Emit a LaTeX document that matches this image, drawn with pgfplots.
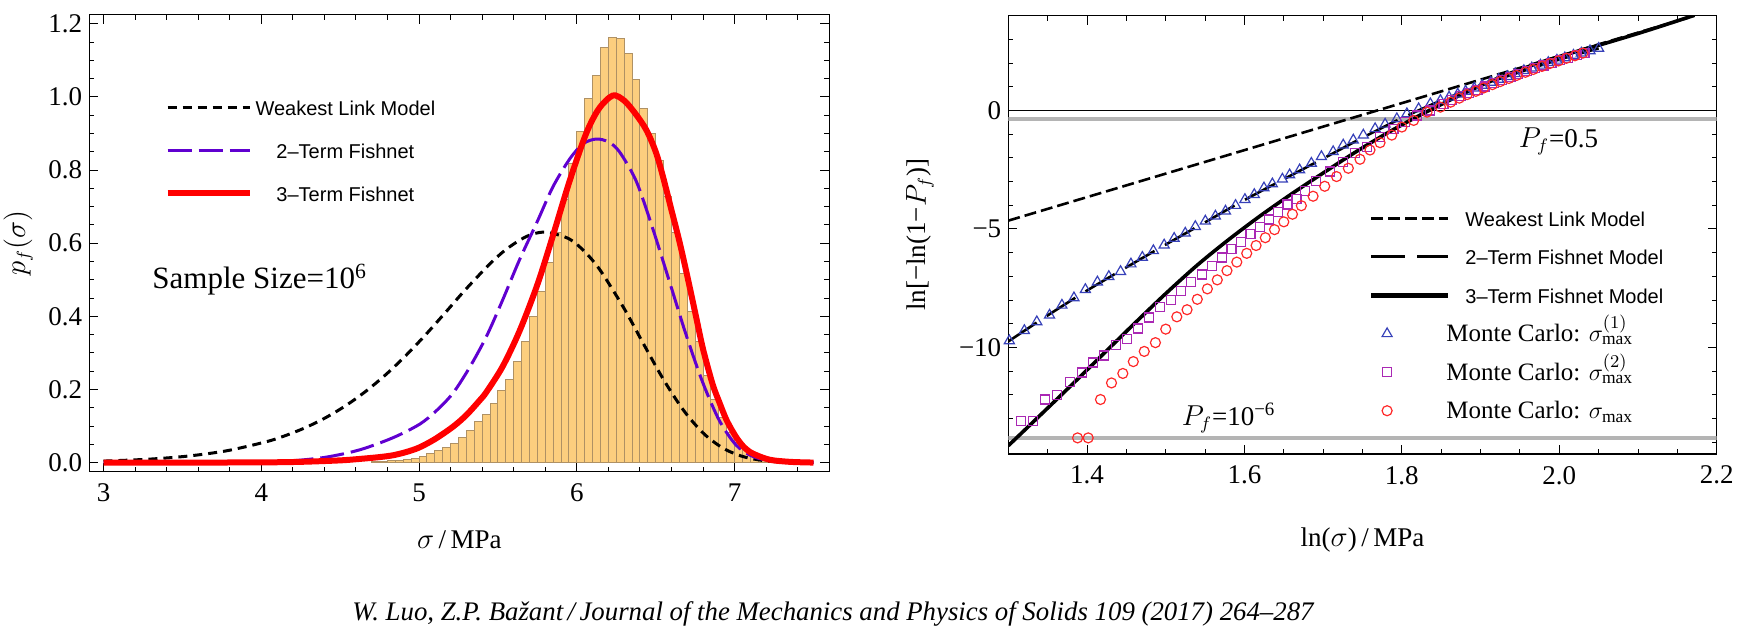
\documentclass[border=0pt]{standalone}
\usepackage{fontspec}
\setmainfont{Liberation Serif}
\setsansfont{Liberation Sans}
\usepackage{pgfplots}
\pgfplotsset{compat=1.18}
\definecolor{histfill}{RGB}{252,206,126}
\definecolor{histedge}{RGB}{175,145,100}
\definecolor{purp}{RGB}{96,0,208}
\definecolor{tri}{RGB}{55,65,185}
\definecolor{sq}{RGB}{170,40,180}
\definecolor{circ}{RGB}{255,40,40}
\definecolor{gline}{RGB}{180,180,180}
\newcommand{\tickfont}{\fontsize{13.5}{15}\selectfont}
\newcommand{\legfont}{\sffamily\fontsize{10}{12}\selectfont}
\newcommand{\mcfont}{\rmfamily\fontsize{12.5}{14}\selectfont}
\pgfplotsset{
  myaxis/.style={
    scale only axis,
    axis line style={line width=0.6pt},
    tick align=inside,
    major tick length=4.5pt,
    minor tick length=2.5pt,
    tick style={black, line width=0.5pt},
    tick label style={font=\tickfont},
    label style={font=\tickfont},
    xticklabel style={yshift=-2.5pt},
  },
  linelegend/.style={legend image code/.code={\draw[##1] (0pt,0pt) -- (38.5pt,0pt);}},
  markleg/.style={legend image code/.code={\draw[##1] plot coordinates {(8pt,0pt)}; \path[draw=none] (0pt,0pt) -- (38.5pt,0pt);}},
}
\begin{document}
\begin{tikzpicture}
\useasboundingbox (0,0) rectangle (872.5pt,-316pt);
% ---------------- left panel ----------------
\begin{axis}[myaxis, at={(44.65pt,-7.35pt)}, anchor=north west,
  width=370pt, height=228.5pt,
  xmin=2.91, xmax=7.6, ymin=-0.025, ymax=1.225,
  xtick={3,4,5,6,7}, xticklabels={3,4,5,6,7},
  ytick={0,0.2,0.4,0.6,0.8,1.0,1.2}, yticklabels={0.0,0.2,0.4,0.6,0.8,1.0,1.2},
  minor xtick={3.2,3.4,3.6,3.8,4.2,4.4,4.6,4.8,5.2,5.4,5.6,5.8,6.2,6.4,6.6,6.8,7.2,7.4},
  minor ytick={0.05,0.1,0.15,0.25,0.3,0.35,0.45,0.5,0.55,0.65,0.7,0.75,0.85,0.9,0.95,1.05,1.1,1.15},
  xlabel={$\sigma$\,/\,MPa}, ylabel={$p_f(\sigma)$},
  xlabel style={at={(axis description cs:0.5,-0.149)}, anchor=center},
  ylabel style={at={(axis description cs:-0.096,0.5)}, anchor=center},
  legend style={draw=none, fill=none, inner sep=0pt, outer sep=0pt,
    at={(axis cs:3.388,0.997)}, anchor=north west, font=\legfont,
    row sep=12.3pt, column sep=1.4pt,
    nodes={inner sep=0pt, text height=8.6pt, text depth=0.6pt}},
  legend cell align=center,
  legend image code/.code={\draw[#1] (0pt,0pt) -- (41pt,0pt);},
]
\addplot[ybar interval, fill=histfill, draw=histedge, line width=0.5pt, forget plot] coordinates {
(4.70,0.002) (4.75,0.003) (4.80,0.005) (4.85,0.007) (4.90,0.009) (4.95,0.012)
(5.00,0.016) (5.05,0.024) (5.10,0.032) (5.15,0.040) (5.20,0.053) (5.25,0.068)
(5.30,0.087) (5.35,0.111) (5.40,0.132) (5.45,0.161) (5.50,0.198) (5.55,0.227)
(5.60,0.276) (5.65,0.330) (5.70,0.399) (5.75,0.467) (5.80,0.548) (5.85,0.628)
(5.90,0.719) (5.95,0.819) (6.00,0.906) (6.05,0.996) (6.10,1.060) (6.15,1.136)
(6.20,1.164) (6.25,1.161) (6.30,1.120) (6.35,1.049) (6.40,0.968) (6.45,0.900)
(6.50,0.826) (6.55,0.728) (6.60,0.628) (6.65,0.516) (6.70,0.412) (6.75,0.331)
(6.80,0.238) (6.85,0.172) (6.90,0.124) (6.95,0.081) (7.00,0.054) (7.05,0.033)
(7.10,0.016) (7.15,0.008) (7.20,0.004) (7.25,0.002) (7.30,0.001) (7.35,0.001)};
\addplot[black, line width=1.5pt, dash pattern=on 4.5pt off 3pt, smooth] coordinates {
(3.0,0.0040) (3.276,0.0090) (3.528,0.0174) (3.780,0.0322) (4.032,0.0570) (4.158,0.0746)
(4.284,0.0964) (4.410,0.1233) (4.536,0.1559) (4.662,0.1948) (4.788,0.2401) (4.914,0.2918)
(5.040,0.3489) (5.166,0.4100) (5.292,0.4721) (5.444,0.5414) (5.544,0.5805) (5.645,0.6102)
(5.720,0.6250) (5.808,0.6300) (5.948,0.6126) (6.048,0.5776) (6.149,0.5254) (6.300,0.4211)
(6.426,0.3218) (6.552,0.2250) (6.678,0.1419) (6.804,0.0793) (6.930,0.0385) (7.056,0.0160)
(7.183,0.0055) (7.309,0.0015) (7.5,0.0002)};
\addlegendentry{Weakest Link Model}
\addplot[purp, line width=1.5pt, dash pattern=on 12pt off 3.5pt, smooth] coordinates {
(3.0,0.0) (3.5,0.0004) (4.0,0.002) (4.2,0.005) (4.414,0.015) (4.625,0.035) (4.835,0.068)
(5.004,0.105) (5.11,0.142) (5.215,0.19) (5.32,0.26) (5.427,0.345) (5.53,0.445) (5.637,0.555)
(5.75,0.66) (5.848,0.754) (5.954,0.830) (6.04,0.872) (6.123,0.885) (6.2,0.877) (6.27,0.850)
(6.376,0.77) (6.481,0.64) (6.587,0.495) (6.692,0.35) (6.797,0.22) (6.903,0.115) (7.009,0.048)
(7.114,0.017) (7.25,0.004) (7.5,0.0)};
\addlegendentry{2–Term Fishnet}
\addplot[red, line width=3pt, smooth] coordinates {
(3.0,0.0) (3.5,0.0) (4.0,0.0005) (4.25,0.002) (4.5,0.006) (4.625,0.01) (4.75,0.015)
(4.835,0.02) (4.92,0.029) (5.0,0.041) (5.1,0.064) (5.215,0.098) (5.3,0.13) (5.384,0.17)
(5.427,0.193) (5.53,0.263) (5.637,0.36) (5.75,0.487) (5.848,0.62) (5.954,0.77) (6.059,0.9)
(6.14,0.968) (6.228,1.004) (6.30,0.99) (6.37,0.955) (6.44,0.91) (6.5,0.85) (6.544,0.785)
(6.60,0.69) (6.65,0.605) (6.70,0.51) (6.755,0.40) (6.80,0.31) (6.86,0.215) (6.903,0.165)
(6.95,0.115) (7.009,0.07) (7.06,0.042) (7.114,0.025) (7.22,0.008) (7.35,0.002) (7.5,0.0)};
\addlegendentry{3–Term Fishnet}
\node[font=\fontsize{15.5}{17}\selectfont] at (axis cs:3.99,0.5) {Sample Size=10\textsuperscript{6}};
\end{axis}
% ---------------- right panel ----------------
\begin{axis}[myaxis, at={(504.15pt,-7.85pt)}, anchor=north west,
  width=354.2pt, height=219.15pt,
  xmin=1.3, xmax=2.2, ymin=-14.5, ymax=4,
  xtick={1.4,1.6,1.8,2.0,2.2}, xticklabels={1.4,1.6,1.8,2.0,2.2},
  ytick={-10,-5,0}, yticklabels={−10,−5,0},
  minor xtick={1.3,1.35,1.45,1.5,1.55,1.65,1.7,1.75,1.85,1.9,1.95,2.05,2.1,2.15},
  minor ytick={-14,-13,-12,-11,-9,-8,-7,-6,-4,-3,-2,-1,1,2,3},
  xlabel={ln($\sigma$)\,/\,MPa}, ylabel={ln[−ln(1−$P_f$)]},
  xlabel style={at={(axis description cs:0.5,-0.196)}, anchor=center},
  ylabel style={at={(axis description cs:-0.1246,0.5)}, anchor=center},
  legend style={draw=none, fill=none, inner sep=0pt, outer sep=0pt,
    at={(axis cs:1.758,-4.16)}, anchor=north west, font=\legfont,
    row sep=10.05pt, column sep=7.5pt,
    nodes={inner sep=0pt, text height=8.6pt, text depth=0.6pt}},
  legend cell align=left,
]
\addlegendimage{black, line width=1.3pt, dash pattern=on 6pt off 2.5pt, linelegend}
\addlegendentry{Weakest Link Model}
\addlegendimage{black, line width=1.6pt, dash pattern=on 17pt off 6pt, linelegend}
\addlegendentry{2–Term Fishnet Model}
\addlegendimage{black, line width=2.3pt, linelegend}
\addlegendentry{3–Term Fishnet Model}
\addlegendimage{tri, only marks, mark=triangle, mark size=2.9pt, line width=0.6pt, markleg}
\addlegendentry{\hspace*{-9.5pt}{\mcfont Monte Carlo: $\sigma^{(1)}_{\max}$}}
\addlegendimage{sq, only marks, mark=square, mark size=2.25pt, line width=0.6pt, markleg}
\addlegendentry{\hspace*{-9.5pt}{\mcfont Monte Carlo: $\sigma^{(2)}_{\max}$}}
\addlegendimage{circ, only marks, mark=o, mark size=2.5pt, line width=0.6pt, markleg}
\addlegendentry{\hspace*{-9.5pt}{\mcfont Monte Carlo: $\sigma_{\max}$}}
% reference lines
\addplot[gline, line width=2pt, forget plot] coordinates {(1.3,-0.3665) (2.2,-0.3665)};
\addplot[gline, line width=2pt, forget plot] coordinates {(1.3,-13.8155) (2.2,-13.8155)};
\addplot[black, line width=0.5pt, forget plot] coordinates {(1.3,0) (2.2,0)};
% Monte Carlo sigma_max^(1)
\addplot[tri, only marks, mark=triangle, mark size=2.9pt, line width=0.6pt, forget plot] coordinates {
(1.3013,-9.72) (1.3204,-9.29) (1.3362,-8.92) (1.3524,-8.64) (1.3681,-8.22) (1.3834,-7.91)
(1.3979,-7.56) (1.4132,-7.24) (1.4277,-7.01) (1.4426,-6.80) (1.4558,-6.48) (1.4703,-6.20)
(1.4843,-5.92) (1.4980,-5.68) (1.5107,-5.40) (1.5248,-5.18) (1.5376,-4.90) (1.5503,-4.67)
(1.5631,-4.46) (1.5759,-4.25) (1.5887,-4.01) (1.6006,-3.76) (1.6125,-3.55) (1.6248,-3.27)
(1.6355,-3.10) (1.6482,-2.90) (1.6574,-2.72) (1.6701,-2.51) (1.6850,-2.23) (1.6978,-1.95)
(1.7127,-1.74) (1.7255,-1.46) (1.7383,-1.25) (1.7510,-1.04) (1.7660,-0.77) (1.7787,-0.58)
(1.7936,-0.35) (1.8064,-0.14) (1.8213,0.07) (1.8362,0.28) (1.8490,0.42) (1.860,0.56)
(1.871,0.69) (1.881,0.81) (1.892,0.94) (1.902,1.06) (1.913,1.19) (1.923,1.31) (1.934,1.43)
(1.944,1.55) (1.955,1.68) (1.965,1.79) (1.976,1.91) (1.986,2.02) (1.997,2.12) (2.007,2.22)
(2.018,2.33) (2.028,2.42) (2.039,2.52) (2.050,2.62)};
% Monte Carlo sigma_max^(2)
\addplot[sq, only marks, mark=square, mark size=2.25pt, line width=0.6pt, forget plot] coordinates {
(1.2983,-13.12) (1.3162,-13.12) (1.3311,-13.12) (1.3468,-12.20) (1.3622,-12.00) (1.3779,-11.47)
(1.3937,-11.06) (1.4077,-10.64) (1.4218,-10.34) (1.4367,-9.90) (1.4511,-9.64) (1.4652,-9.20)
(1.4788,-8.74) (1.4929,-8.31) (1.5065,-8.00) (1.5193,-7.61) (1.5324,-7.24) (1.5461,-6.92)
(1.5588,-6.56) (1.5716,-6.21) (1.5835,-5.86) (1.5959,-5.55) (1.6078,-5.23) (1.6193,-4.92)
(1.6312,-4.60) (1.6431,-4.30) (1.6546,-3.97) (1.6661,-3.73) (1.6765,-3.40) (1.6914,-2.99)
(1.7085,-2.58) (1.7255,-2.16) (1.7404,-1.81) (1.7553,-1.53) (1.7723,-1.11) (1.7893,-0.77)
(1.8043,-0.49) (1.8191,-0.21) (1.836,0.0) (1.853,0.28) (1.864,0.45) (1.875,0.60) (1.885,0.74)
(1.896,0.88) (1.906,1.01) (1.917,1.15) (1.927,1.28) (1.938,1.40) (1.948,1.53) (1.959,1.66)
(1.969,1.78) (1.980,1.90) (1.990,2.01) (2.001,2.12) (2.011,2.22) (2.022,2.33) (2.032,2.43)};
% Monte Carlo sigma_max
\addplot[circ, only marks, mark=o, mark size=2.5pt, line width=0.6pt, forget plot] coordinates {
(1.3880,-13.82) (1.4015,-13.82) (1.4171,-12.20) (1.4311,-11.50) (1.4455,-11.10) (1.4588,-10.60)
(1.4727,-10.17) (1.4869,-9.80) (1.5000,-9.23) (1.5141,-8.71) (1.5271,-8.41) (1.5401,-7.97)
(1.5529,-7.53) (1.5655,-7.15) (1.5778,-6.76) (1.5903,-6.40) (1.6029,-6.03) (1.6148,-5.70)
(1.6265,-5.37) (1.6382,-5.03) (1.6500,-4.70) (1.6610,-4.38) (1.6723,-4.02) (1.6872,-3.62)
(1.7020,-3.20) (1.7170,-2.79) (1.7320,-2.44) (1.7468,-2.06) (1.7595,-1.67) (1.7723,-1.36)
(1.7872,-1.04) (1.8000,-0.70) (1.8150,-0.42) (1.8320,-0.07) (1.8490,0.14) (1.8620,0.35)
(1.873,0.52) (1.883,0.67) (1.894,0.81) (1.904,0.95) (1.915,1.09) (1.925,1.22) (1.936,1.35)
(1.946,1.48) (1.957,1.61) (1.967,1.73) (1.978,1.86) (1.988,1.98) (1.999,2.09) (2.009,2.20)
(2.020,2.31) (2.030,2.42)};
% models
\addplot[black, line width=1.3pt, dash pattern=on 6pt off 2.5pt, forget plot] coordinates {
(1.3,-4.65) (2.172,4.0)};
\addplot[black, line width=1.3pt, dash pattern=on 17pt off 6pt, smooth, forget plot] coordinates {
(1.300,-9.75) (1.350,-8.65) (1.400,-7.60) (1.450,-6.62) (1.500,-5.66) (1.550,-4.72)
(1.600,-3.78) (1.650,-2.90) (1.700,-2.03) (1.750,-1.15) (1.800,-0.32) (1.850,0.42)
(1.900,1.06) (1.950,1.62) (2.000,2.15) (2.050,2.62)};
\addplot[black, line width=1.8pt, smooth, forget plot] coordinates {
(1.300,-14.15) (1.340,-12.88) (1.380,-11.60) (1.420,-10.30) (1.460,-9.00) (1.500,-7.73)
(1.540,-6.53) (1.580,-5.45) (1.620,-4.45) (1.660,-3.52) (1.700,-2.64) (1.740,-1.78)
(1.780,-0.98) (1.820,-0.25) (1.860,0.42) (1.900,1.05) (1.940,1.60) (1.980,2.07)
(2.020,2.47) (2.060,2.85) (2.100,3.25) (2.135,3.62) (2.170,4.0)};
\node[font=\tickfont] at (axis cs:1.999,-1.31) {$P_f$=0.5};
\node[font=\tickfont] at (axis cs:1.58,-12.98) {$P_f$=10\textsuperscript{−6}};
\end{axis}
\node[font=\itshape\fontsize{13.4}{15}\selectfont, anchor=center] at (416.5pt,-307pt)
  {W. Luo, Z.P. Bažant\,/\,Journal of the Mechanics and Physics of Solids 109 (2017) 264–287};
\end{tikzpicture}
\end{document}
